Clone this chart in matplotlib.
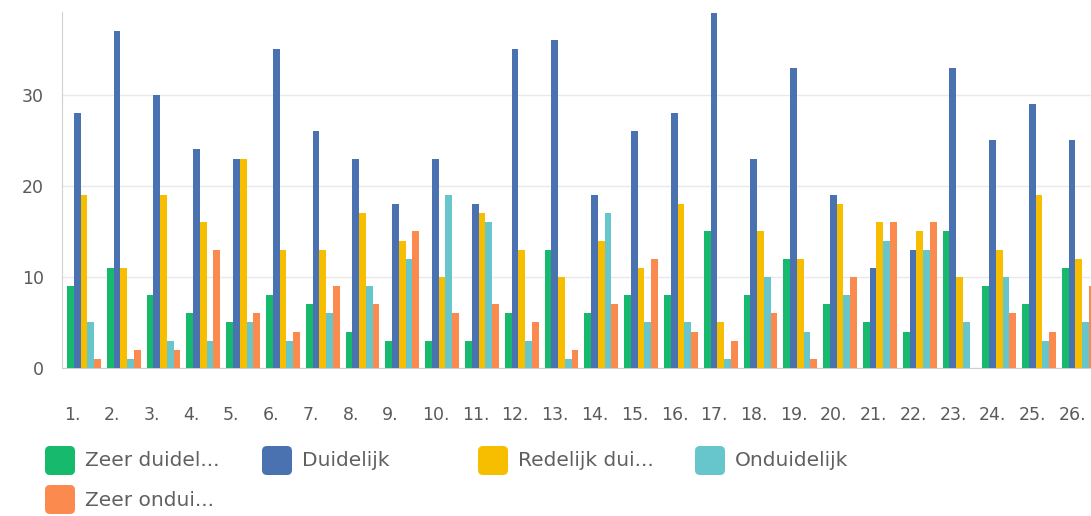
import numpy as np
import matplotlib
matplotlib.use("Agg")
import matplotlib.pyplot as plt
from matplotlib.patches import FancyBboxPatch
from matplotlib.transforms import IdentityTransform

# data
categories = [f"{i}." for i in range(1, 27)]
zeer_duidelijk = [9, 11, 8, 6, 5, 8, 7, 4, 3, 3, 3, 6, 13, 6, 8, 8, 15, 8, 12, 7, 5, 4, 15, 9, 7, 11]
duidelijk = [28, 37, 30, 24, 23, 35, 26, 23, 18, 23, 18, 35, 36, 19, 26, 28, 39, 23, 33, 19, 11, 13, 33, 25, 29, 25]
redelijk = [19, 11, 19, 16, 23, 13, 13, 17, 14, 10, 17, 13, 10, 14, 11, 18, 5, 15, 12, 18, 16, 15, 10, 13, 19, 12]
onduidelijk = [5, 1, 3, 3, 5, 3, 6, 9, 12, 19, 16, 3, 1, 17, 5, 5, 1, 10, 4, 8, 14, 13, 5, 10, 3, 5]
zeer_onduidelijk = [1, 2, 2, 13, 6, 4, 9, 7, 15, 6, 7, 5, 2, 7, 12, 4, 3, 6, 1, 10, 16, 16, 0, 6, 4, 9]

series = [zeer_duidelijk, duidelijk, redelijk, onduidelijk, zeer_onduidelijk]
names = ["Zeer duidel...", "Duidelijk", "Redelijk dui...", "Onduidelijk", "Zeer ondui..."]
colors = ["#17b96c", "#4a72b0", "#f7be00", "#67c6cb", "#fb8a4f"]

fig = plt.figure(figsize=(10.91, 5.16), dpi=100)
ax = fig.add_axes([62 / 1091, 1 - 368 / 516, 1 - 62 / 1091, (368 - 12) / 516])

x = np.arange(len(categories))
w = 0.17
for k, (vals, c) in enumerate(zip(series, colors)):
    ax.bar(x + k * w, vals, width=w, align="edge", color=c, zorder=3)

ax.set_xlim(-0.126, 25.73)
ax.set_ylim(0, 39.1)
ax.set_yticks([0, 10, 20, 30])
ax.grid(axis="y", color="#e9e9e9", linewidth=1, zorder=0)
for s in ["top", "right"]:
    ax.spines[s].set_visible(False)
for s in ["left", "bottom"]:
    ax.spines[s].set_color("#d0d0d0")
ax.tick_params(axis="both", length=0, labelsize=12.5, colors="#5a5a5a")
ax.tick_params(axis="y", pad=13)
ax.set_xticks(x - 0.08)
ax.set_xticklabels(categories, ha="left")
ax.tick_params(axis="x", pad=27)

# legend drawn by hand to keep the even column layout
leg_x = [45, 262, 478, 695, 45]
leg_y = [461, 461, 461, 461, 500]
for name, c, lx, ly in zip(names, colors, leg_x, leg_y):
    py = 516 - ly
    fig.patches.append(FancyBboxPatch((lx, py - 14), 30, 29,
                                      boxstyle="round,pad=0,rounding_size=5",
                                      transform=IdentityTransform(),
                                      facecolor=c, edgecolor="none"))
    fig.text((lx + 40) / 1091, py / 516, name, va="center", ha="left",
             fontsize=14.5, color="#606060")

fig.savefig("out.png", dpi=100)
